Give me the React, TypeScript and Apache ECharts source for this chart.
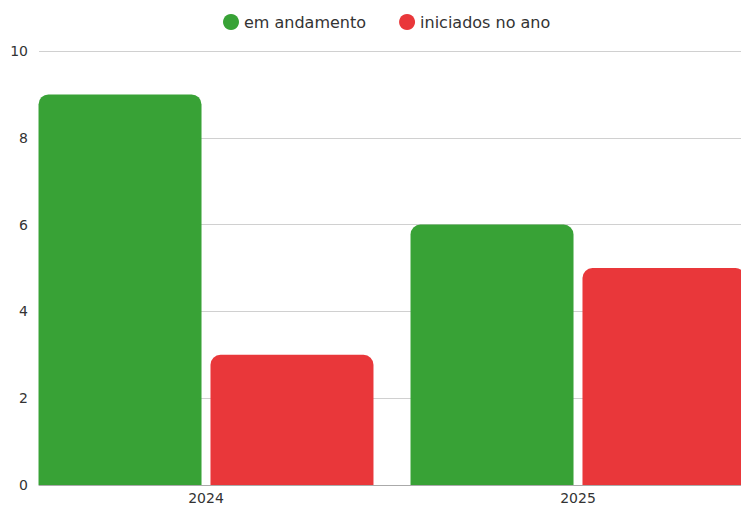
import React, { useEffect, useRef } from "react";
import * as echarts from "echarts";

const categories = ["2024", "2025"];
const seriesNames = ["em andamento", "iniciados no ano"];
const emAndamento = [9, 6];
const iniciadosNoAno = [3, 5];
const yMin = 0;
const yMax = 10;
const yInterval = 2;

const GREEN = "#38a236";
const RED = "#e9373a";
const FONT = "'DejaVu Sans', sans-serif";

export default function App() {
  const ref = useRef<HTMLDivElement>(null);
  useEffect(() => {
    document.body.style.margin = "0";
    if (!ref.current) return;
    const chart = echarts.init(ref.current, undefined, { renderer: "svg" });
    chart.setOption({
      animation: false,
      textStyle: { fontFamily: FONT },
      legend: {
        top: 9,
        left: 218,
        icon: "circle",
        itemWidth: 16,
        itemHeight: 16,
        itemGap: 33,
        textStyle: { fontFamily: FONT, fontSize: 16, color: "#333" },
        data: seriesNames,
      },
      grid: [
        { left: 39, right: 0, top: 51, bottom: 21, outerBoundsMode: "none", containLabel: false },
        { left: 20, width: 744, top: 51, bottom: 21, outerBoundsMode: "none", containLabel: false },
      ],
      xAxis: [
        {
          type: "category",
          gridIndex: 0,
          data: categories,
          axisLine: { show: true, lineStyle: { color: "#aaa", width: 1 } },
          axisTick: { show: false },
          axisLabel: { show: false },
        },
        {
          type: "category",
          gridIndex: 1,
          data: categories,
          axisLine: { show: false },
          axisTick: { show: false },
          axisLabel: { show: true, fontFamily: FONT, fontSize: 14, color: "#333", margin: 6 },
        },
      ],
      yAxis: [
        {
          type: "value",
          gridIndex: 0,
          min: yMin,
          max: yMax,
          interval: yInterval,
          axisLine: { show: false },
          axisTick: { show: false },
          axisLabel: { fontFamily: FONT, fontSize: 14, color: "#333", margin: 11 },
          splitLine: { lineStyle: { color: "#d0d0d0", width: 1 } },
        },
        {
          type: "value",
          gridIndex: 1,
          min: yMin,
          max: yMax,
          interval: yInterval,
          show: false,
          splitLine: { show: false },
        },
      ],
      series: [
        {
          name: seriesNames[0],
          type: "bar",
          xAxisIndex: 1,
          yAxisIndex: 1,
          data: emAndamento,
          barWidth: 163,
          barGap: "5.5%",
          itemStyle: { color: GREEN, borderRadius: [10, 10, 0, 0] },
        },
        {
          name: seriesNames[1],
          type: "bar",
          xAxisIndex: 1,
          yAxisIndex: 1,
          data: iniciadosNoAno,
          barWidth: 163,
          barGap: "5.5%",
          itemStyle: { color: RED, borderRadius: [10, 10, 0, 0] },
        },
      ],
    });
    return () => chart.dispose();
  }, []);
  return <div ref={ref} style={{ width: 741, height: 506 }} />;
}
